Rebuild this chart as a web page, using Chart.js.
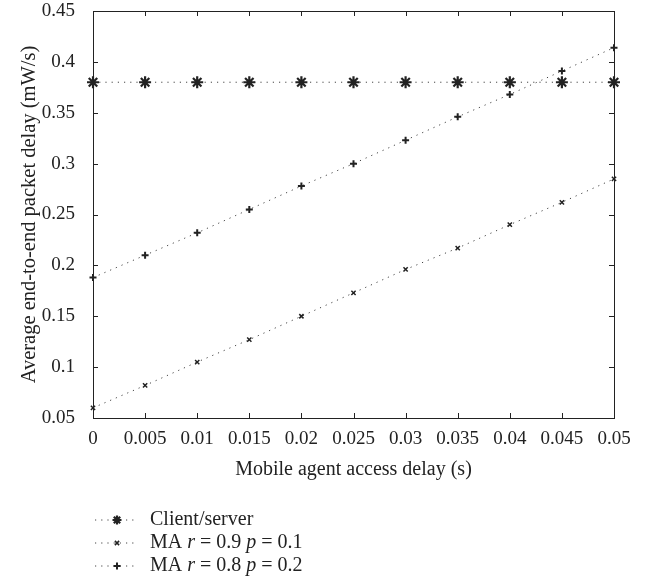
<!DOCTYPE html>
<html>
<head>
<meta charset="utf-8">
<script src="https://cdn.jsdelivr.net/npm/chart.js@4"></script>
<style>
  body { margin: 0; background: #fff; }
  #wrap { width: 654px; height: 585px; }
</style>
</head>
<body>
<div id="wrap"><canvas id="chart" width="654" height="585"></canvas></div>
<script>
// values
const xValues = [0, 0.005, 0.01, 0.015, 0.02, 0.025, 0.03, 0.035, 0.04, 0.045, 0.05];
const clientServer = [0.38, 0.38, 0.38, 0.38, 0.38, 0.38, 0.38, 0.38, 0.38, 0.38, 0.38];
const maR09 = [0.060, 0.082, 0.105, 0.127, 0.150, 0.173, 0.196, 0.217, 0.240, 0.262, 0.285];
const maR08 = [0.188, 0.210, 0.232, 0.255, 0.278, 0.300, 0.323, 0.346, 0.368, 0.391, 0.414];
const seriesNames = ["Client/server", "MA r = 0.9 p = 0.1", "MA r = 0.8 p = 0.2"];
const xTicks = [0, 0.005, 0.01, 0.015, 0.02, 0.025, 0.03, 0.035, 0.04, 0.045, 0.05];
const yTicks = [0.05, 0.1, 0.15, 0.2, 0.25, 0.3, 0.35, 0.4, 0.45];

const FONT = "'Liberation Serif', 'DejaVu Serif', serif";
const INK = "#222";

const styles = [
    { pointStyle: "star", pointRadius: 6, pointBorderWidth: 2.2, legendRadius: 4.5 },
    { pointStyle: "crossRot", pointRadius: 3, pointBorderWidth: 1.5, legendRadius: 3 },
    { pointStyle: "cross", pointRadius: 3.5, pointBorderWidth: 2, legendRadius: 3.5 },
];

const toPoints = (ys) => xValues.map((x, i) => ({ x: x, y: ys[i] }));

const makeDataset = (label, ys, style) => ({
    label: label,
    data: toPoints(ys),
    borderColor: "#444",
    backgroundColor: INK,
    borderWidth: 1,
    borderDash: [1.2, 5],
    pointStyle: style.pointStyle,
    pointRadius: style.pointRadius,
    pointBorderWidth: style.pointBorderWidth,
    pointBorderColor: INK,
    pointHoverRadius: style.pointRadius,
    legendRadius: style.legendRadius,
    tension: 0,
    clip: false,
});

const fmt = (v) => String(parseFloat(Number(v).toFixed(3)));

// frame with inward ticks on all four sides, plus the legend under the plot
const framePlugin = {
    id: "frame",
    afterDraw(chart) {
        const ctx = chart.ctx;
        const a = chart.chartArea;
        const xs = chart.scales.x;
        const ys = chart.scales.y;
        const t = 5;
        ctx.save();
        ctx.strokeStyle = INK;
        ctx.lineWidth = 1;
        ctx.setLineDash([]);
        ctx.strokeRect(a.left + 0.5, a.top + 0.5, a.right - a.left, a.bottom - a.top);
        ctx.beginPath();
        xTicks.forEach(v => {
            const px = Math.round(xs.getPixelForValue(v)) + 0.5;
            ctx.moveTo(px, a.bottom); ctx.lineTo(px, a.bottom - t);
            ctx.moveTo(px, a.top); ctx.lineTo(px, a.top + t);
        });
        yTicks.forEach(v => {
            const py = Math.round(ys.getPixelForValue(v)) + 0.5;
            ctx.moveTo(a.left, py); ctx.lineTo(a.left + t, py);
            ctx.moveTo(a.right, py); ctx.lineTo(a.right - t, py);
        });
        ctx.stroke();

        // legend
        const rowY = [520, 543, 566];
        chart.data.datasets.forEach((ds, i) => {
            const y = rowY[i];
            ctx.save();
            ctx.strokeStyle = "#444";
            ctx.lineWidth = 1;
            ctx.setLineDash([1.2, 5]);
            ctx.beginPath();
            ctx.moveTo(95, y);
            ctx.lineTo(135, y);
            ctx.stroke();
            ctx.setLineDash([]);
            ctx.strokeStyle = INK;
            ctx.lineWidth = ds.pointBorderWidth;
            ctx.fillStyle = INK;
            Chart.helpers.drawPoint(ctx, {
                pointStyle: ds.pointStyle,
                radius: ds.legendRadius,
                borderWidth: ds.pointBorderWidth,
                rotation: 0,
            }, 117, y);
            ctx.restore();

            let x = 150;
            ctx.fillStyle = INK;
            ctx.textBaseline = "middle";
            const words = ds.label.split(" ");
            words.forEach((w, k) => {
                const italic = (w === "r" || w === "p");
                ctx.font = (italic ? "italic " : "") + "20px " + FONT;
                const s = k < words.length - 1 ? w + " " : w;
                ctx.fillText(s, x, y);
                x += ctx.measureText(s).width;
            });
        });
        ctx.restore();
    },
};

const config = {
    type: "line",
    data: {
        datasets: [
            makeDataset(seriesNames[0], clientServer, styles[0]),
            makeDataset(seriesNames[1], maR09, styles[1]),
            makeDataset(seriesNames[2], maR08, styles[2]),
        ],
    },
    options: {
        responsive: false,
        animation: false,
        events: [],
        layout: { padding: { left: 0, top: 11, right: 40, bottom: 103 } },
        plugins: {
            legend: { display: false },
            tooltip: { enabled: false },
        },
        scales: {
            x: {
                type: "linear",
                min: 0,
                max: 0.05,
                afterBuildTicks: (scale) => { scale.ticks = xTicks.map(v => ({ value: v })); },
                afterFit: (scale) => {
                    scale.height = 64;
                    scale.paddingLeft = 0;
                    scale.paddingRight = 0;
                },
                grid: { display: false },
                border: { display: false },
                ticks: {
                    color: INK,
                    font: { family: FONT, size: 19 },
                    padding: 2,
                    maxRotation: 0,
                    autoSkip: false,
                    callback: (v) => fmt(v),
                },
                title: {
                    display: true,
                    text: "Mobile agent access delay (s)",
                    color: INK,
                    font: { family: FONT, size: 20 },
                    padding: { top: 0, bottom: 0 },
                },
            },
            y: {
                type: "linear",
                min: 0.05,
                max: 0.45,
                afterBuildTicks: (scale) => { scale.ticks = yTicks.map(v => ({ value: v })); },
                afterFit: (scale) => {
                    scale.width = 93;
                    scale.paddingTop = 0;
                    scale.paddingBottom = 0;
                },
                grid: { display: false },
                border: { display: false },
                ticks: {
                    color: INK,
                    font: { family: FONT, size: 19 },
                    padding: 10,
                    autoSkip: false,
                    callback: (v) => fmt(v),
                },
                title: {
                    display: true,
                    text: "Average end-to-end packet delay (mW/s)",
                    color: INK,
                    font: { family: FONT, size: 20.5 },
                    padding: { top: 17, bottom: 0 },
                },
            },
        },
    },
    plugins: [framePlugin],
};

new Chart(document.getElementById("chart").getContext("2d"), config);
</script>
</body>
</html>
